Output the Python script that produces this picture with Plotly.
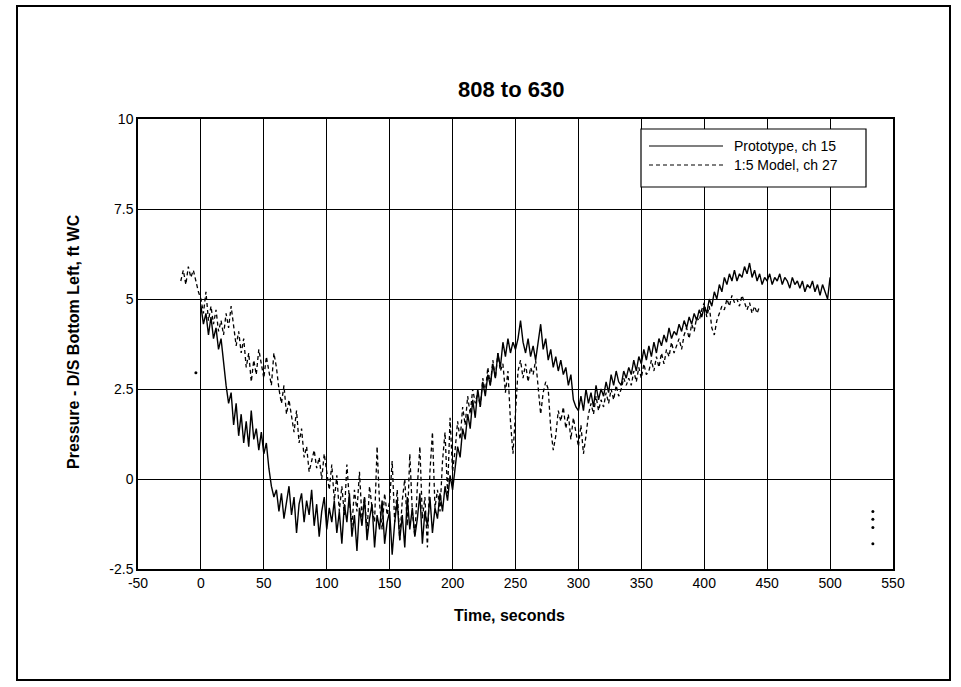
import plotly.graph_objects as go

# Sampling of both records (seconds)
STEP = 2.0
PROTO_START = 0.0
MODEL_START = -16.0

# Prototype, ch 15 - pressure (ft WC) every 2 s from t = 0 to 500 s
prototype_ft = [
    4.8, 4.3, 4.6, 4.0, 4.5, 3.9, 4.2, 3.6, 3.9,
    3.2, 2.6, 2.1, 2.4,
    1.5, 2.1, 1.2, 1.8, 1.0, 1.6, 0.9, 1.9, 1.1, 1.4, 0.8, 1.3,
    0.7, 1.0, 0.3, -0.2, -0.5,
    -0.3, -0.9, -0.4, -1.1, -0.6, -0.2, -1.0, -0.5, -1.5, -0.7, -0.4, -1.2,
    -0.6, -1.0, -0.3, -1.3, -0.7, -1.6, -0.9, -0.5, -1.4, -0.8, -1.2,
    -0.6, -1.5, -0.9, -1.8, -0.7, -1.2, -0.4, -1.6, -1.0, -2.0, -0.8,
    -1.3, -0.5, -1.7, -1.1, -0.7, -1.9, -1.0, -1.4, -0.6, -1.8, -1.2,
    -0.9, -2.1, -1.2, -0.6, -1.7, -1.0, -1.9, -0.5, -1.4, -0.8,
    -1.6, -1.1, -0.4, -1.8, -0.9, -1.3, -0.5, -1.5, -0.8,
    -1.1, -0.4, -0.9, -0.2, -0.6, 0.1, -0.3,
    0.3, 0.9, 0.6, 1.4, 1.1,
    1.8, 1.4, 2.2, 1.7, 2.5, 2.0, 2.7, 2.3, 2.9, 2.6,
    3.2, 2.8, 3.5, 3.1, 3.8, 3.4, 3.9, 3.5, 3.8, 3.6,
    3.9, 4.4, 3.8, 3.5, 3.9, 3.4, 3.7, 3.3, 3.8, 4.3,
    3.6, 3.9, 3.3, 3.6, 3.1, 3.4, 3.0, 3.3, 2.9, 3.1,
    2.6, 2.9, 2.2, 2.0, 1.9,
    2.3, 1.9, 2.5, 2.1, 2.4, 2.0, 2.6, 2.2, 2.5, 2.3,
    2.7, 2.4, 2.9, 2.6, 3.0, 2.7, 2.6, 3.0, 2.8, 3.1,
    2.9, 3.3, 3.0, 3.4, 3.2, 3.6, 3.3, 3.7, 3.4, 3.8, 3.5, 3.9,
    3.7, 4.0, 3.8, 4.2, 3.9, 4.1, 4.0, 4.3, 4.1, 4.4, 4.2, 4.5, 4.3, 4.6,
    4.4, 4.7, 4.5,
    4.8, 4.6, 5.0, 4.8, 5.2, 5.0,
    5.4, 5.2, 5.6, 5.4, 5.7, 5.5, 5.8, 5.5, 5.7, 5.6, 5.9, 5.7,
    6.0, 5.6, 5.8, 5.5, 5.7, 5.4, 5.6,
    5.5, 5.7, 5.4, 5.6, 5.5, 5.7, 5.4, 5.6, 5.5, 5.3, 5.6, 5.4, 5.5, 5.3,
    5.5, 5.2, 5.4, 5.3, 5.5, 5.2, 5.4, 5.1, 5.4, 5.2, 5.0, 5.6,
]

# 1:5 Model, ch 27 - pressure (ft WC) every 2 s from t = -16 to 444 s
model_ft = [
    5.5, 5.8, 5.4, 5.9, 5.6, 5.8, 5.5,
    5.2, 5.0,
    4.6, 5.2, 4.4, 4.8, 4.3, 4.7, 4.1, 4.4,
    4.0, 4.6, 4.2, 4.8, 4.3,
    3.7, 4.1, 3.5, 3.9,
    3.1, 3.5, 2.7, 3.3, 2.9, 3.6, 3.2,
    2.8, 3.4, 3.0, 2.6, 3.5, 3.1,
    2.5, 2.1, 2.6, 1.8, 2.2,
    1.7, 1.3, 1.9, 1.0, 1.4,
    0.6, 0.9, 0.2, 0.5,
    0.8, 0.3, 0.6, 0.0, 0.7, 0.2, -0.3, 0.4, -0.6, 0.1, -0.9,
    -0.2, -1.0, 0.4, -0.6, -1.3, -0.3, -0.9, 0.2, -1.1, -0.5,
    -1.5, -0.2, -0.8, -1.2, 0.9, -0.7, -1.4, -0.4, -1.0, -0.6,
    0.5, -1.2, -0.3, -1.7, -0.6, 0.0, -1.3, 0.7, -0.9, -1.6,
    -0.2, 0.9, -1.1, -0.5, -1.9, 0.2, 1.3, -0.8, -0.3,
    -0.9, 0.5, 1.3, -0.4, 1.7, 0.2,
    0.8, 1.6, 1.1, 2.0, 1.5,
    2.3, 1.8, 2.5, 2.1, 2.4, 2.0, 2.8, 2.4, 3.1, 2.6,
    3.3, 2.8, 3.5, 3.0, 3.2, 2.4, 3.0,
    1.6, 0.7, 1.8, 3.0,
    3.3, 2.8, 3.2, 2.7, 3.1, 2.9, 3.3, 2.6,
    1.8, 2.4, 2.7, 2.5,
    1.4, 0.8, 1.2, 1.9,
    1.6, 2.0, 1.4, 1.8, 1.1, 1.7, 1.3,
    0.9, 1.5, 0.7, 1.2, 1.8,
    2.1, 1.8, 2.3, 1.9, 2.2, 2.0,
    2.4, 2.1, 2.5, 2.2, 2.6, 2.3, 2.5, 2.8, 2.6,
    2.8, 2.6, 3.0, 2.7, 3.1, 2.8, 3.2, 2.9, 3.0, 3.3, 3.0, 3.4, 3.1,
    3.5, 3.2, 3.6, 3.4, 3.8, 3.5, 3.7, 3.9, 3.6, 4.0, 4.2, 3.9, 4.3, 4.1,
    4.5, 4.4, 4.7,
    4.9, 4.5, 4.8, 4.2, 4.0, 4.4,
    4.6, 4.8, 4.7, 5.0, 4.8, 5.1, 4.9, 5.0, 4.8, 5.1, 4.9,
    4.7, 4.9, 4.6, 4.8, 4.6, 4.8,
]

# Isolated model readings away from the main record
model_stray_t = [-4, 534, 534, 534, 534]
model_stray_ft = [2.95, -0.9, -1.12, -1.35, -1.8]

prototype_t = [PROTO_START + i * STEP for i in range(len(prototype_ft))]
model_t = [MODEL_START + i * STEP for i in range(len(model_ft))]

TITLE = "808 to 630"
X_TITLE = "Time, seconds"
Y_TITLE = "Pressure - D/S Bottom Left, ft WC"
PROTO_NAME = "Prototype, ch 15"
MODEL_NAME = "1:5 Model, ch 27"

x_ticks = [-50, 0, 50, 100, 150, 200, 250, 300, 350, 400, 450, 500, 550]
x_tick_text = ["-50", "0", "50", "100", "150", "200", "250", "300", "350",
               "400", "450", "500", "550"]
y_ticks = [-2.5, 0, 2.5, 5, 7.5, 10]
y_tick_text = ["-2.5", "0", "2.5", "5", "7.5", "10"]

FONT = "Liberation Sans, Arial, sans-serif"
DASH = "4px,3px"

fig = go.Figure()
fig.add_trace(go.Scatter(
    x=prototype_t, y=prototype_ft, mode="lines", name=PROTO_NAME,
    line=dict(color="black", width=1.4), showlegend=False,
))
fig.add_trace(go.Scatter(
    x=model_t, y=model_ft, mode="lines", name=MODEL_NAME,
    line=dict(color="black", width=1.3, dash=DASH), showlegend=False,
))
fig.add_trace(go.Scatter(
    x=model_stray_t, y=model_stray_ft, mode="markers", name=MODEL_NAME,
    marker=dict(color="black", size=3), showlegend=False,
))

axis_common = dict(
    showgrid=True, gridcolor="black", gridwidth=1.2,
    zeroline=False, showline=True, linecolor="black", linewidth=1.5,
    mirror=True, ticks="", tickfont=dict(family=FONT, size=14, color="black"),
)
fig.update_xaxes(range=[-50, 550], tickvals=x_ticks, ticktext=x_tick_text,
                 **axis_common)
fig.update_yaxes(range=[-2.5, 10], tickvals=y_ticks, ticktext=y_tick_text,
                 **axis_common)

# Paper-coordinate helpers for the plot frame (l=138, r=893, t=119, b=569)
L, R, T, B = 138, 893, 119, 569
W, H = R - L, B - T


def px(x):
    return (x - L) / W


def py(y):
    return (B - y) / H


shapes = [
    # outer frame around the whole figure
    dict(type="rect", xref="paper", yref="paper",
         x0=px(17), x1=px(950), y0=py(680), y1=py(6),
         line=dict(color="black", width=2), layer="above"),
    # legend box
    dict(type="rect", xref="paper", yref="paper",
         x0=px(641), x1=px(866), y0=py(187), y1=py(129),
         line=dict(color="black", width=1.2), fillcolor="white", layer="above"),
    dict(type="line", xref="paper", yref="paper",
         x0=px(649), x1=px(723), y0=py(146), y1=py(146),
         line=dict(color="black", width=1.2), layer="above"),
    dict(type="line", xref="paper", yref="paper",
         x0=px(649), x1=px(723), y0=py(165), y1=py(165),
         line=dict(color="black", width=1.2, dash=DASH), layer="above"),
]


def label(text, x, y, size, bold=False, angle=0, xanchor="center"):
    return dict(
        text=f"<b>{text}</b>" if bold else text,
        xref="paper", yref="paper", x=px(x), y=py(y),
        xanchor=xanchor, yanchor="middle", showarrow=False, textangle=angle,
        font=dict(family=FONT, size=size, color="black"),
    )


annotations = [
    label(TITLE, 511, 90, 22, bold=True),
    label(X_TITLE, 509, 615, 16, bold=True),
    label(Y_TITLE, 73, 342, 16, bold=True, angle=-90),
    label(PROTO_NAME, 732, 146, 14, xanchor="left"),
    label(MODEL_NAME, 732, 165, 14, xanchor="left"),
]

fig.update_layout(
    width=961, height=687,
    margin=dict(l=L, r=961 - R, t=T, b=687 - B),
    paper_bgcolor="white", plot_bgcolor="white",
    shapes=shapes, annotations=annotations,
    font=dict(family=FONT, color="black"),
)

fig.write_html("out.html")
